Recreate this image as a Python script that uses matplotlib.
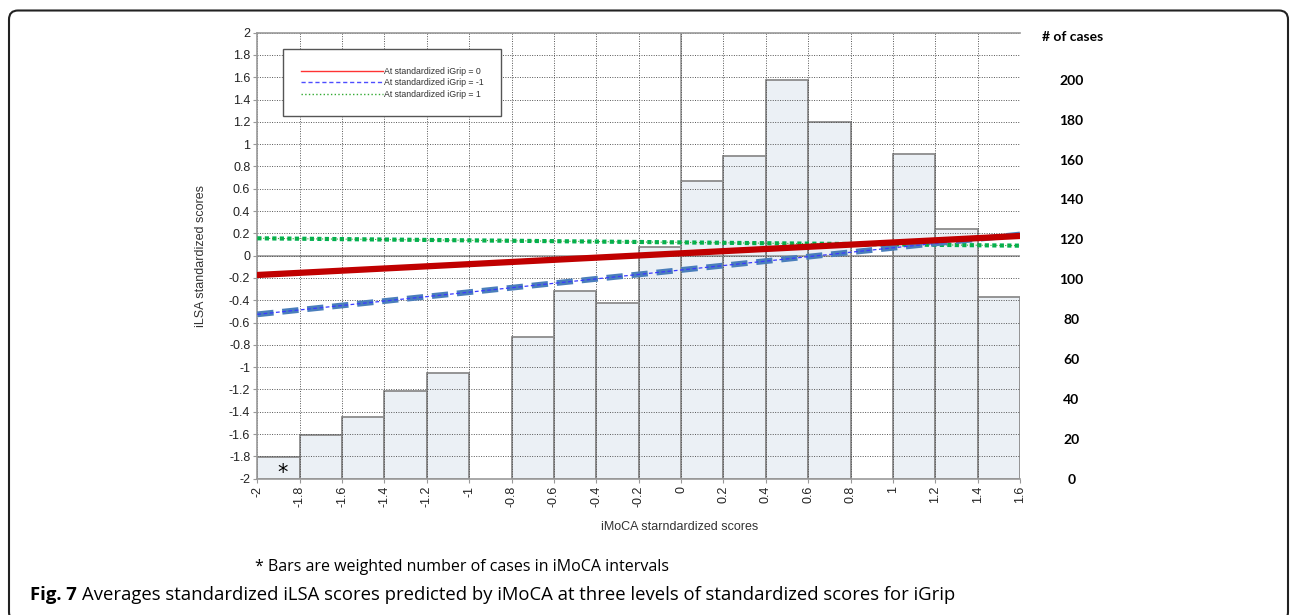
import matplotlib
matplotlib.use("Agg")
import matplotlib.pyplot as plt
import numpy as np
from matplotlib.patches import FancyBboxPatch
from matplotlib.lines import Line2D
from matplotlib.transforms import IdentityTransform

# intervalles iMoCA (bords gauches, largeur 0.2) et nombre pondere de cas
bin_left = [-2.0, -1.8, -1.6, -1.4, -1.2, -0.8, -0.6, -0.4, -0.2, 0.0, 0.2, 0.4, 0.6, 1.0, 1.2, 1.4]
cases = [11, 22, 31, 44, 53, 71, 94, 88, 116, 149, 162, 200, 179, 163, 125, 91]

# droites predites (extremites x = -2 et x = 1.6)
line_x = [-2.0, 1.6]
y_grip0 = [-0.173, 0.177]
y_grip_m1 = [-0.526, 0.19]
y_grip_p1 = [0.156, 0.09]

legend_labels = ['At standardized iGrip = 0', 'At standardized iGrip = -1', 'At standardized iGrip = 1']
case_ticks = [0, 20, 40, 60, 80, 100, 120, 140, 160, 180, 200]

W, H = 1290, 615
fig = plt.figure(figsize=(W / 100, H / 100), dpi=100)
ax = fig.add_axes([257.3 / W, 1 - 478.7 / H, (1020 - 257.3) / W, (478.7 - 32.7) / H])
ax2 = ax.twinx()
ax.set_zorder(ax2.get_zorder() + 1)
ax.patch.set_visible(False)

# barres sur l'axe des cas
ax2.bar(bin_left, cases, width=0.2, align='edge', color='#ebf0f5', edgecolor='#8c8c8c', linewidth=1.3)
ax2.set_ylim(0.65, 223.6)
ax2.set_yticks(case_ticks)
ax2.set_yticklabels([str(c) for c in case_ticks], fontfamily='Lato', fontweight='bold', fontsize=10, ha='center')
ax2.tick_params(axis='y', length=0, pad=37)
for s in ax2.spines.values():
    s.set_visible(False)

# grille et axes
xt = np.round(np.arange(-2, 1.61, 0.2), 1) + 0.0
yt = np.round(np.arange(-2, 2.01, 0.2), 1) + 0.0
ax.set_xlim(-2, 1.6)
ax.set_ylim(-2, 2)
ax.set_xticks(xt)
ax.set_yticks(yt)
ax.set_xticklabels(['%g' % v for v in xt], rotation=90)
ax.set_yticklabels(['%g' % v for v in yt])
ax.tick_params(labelsize=9, colors='#999999', labelcolor='#222222', length=3, width=0.8, pad=2)
for lab in ax.get_xticklabels() + ax.get_yticklabels():
    lab.set_fontfamily('Liberation Sans')
ax.grid(True, color='#555555', linestyle=(0, (1, 1.5)), linewidth=0.7)
ax.axhline(0, color='#999999', lw=1.2, zorder=1.5)
ax.axvline(0, color='#999999', lw=1.2, zorder=1.5)
for k in ['left', 'top', 'bottom']:
    ax.spines[k].set_color('#999999')
    ax.spines[k].set_linewidth(1.2)
ax.spines['right'].set_visible(False)

# droites epaisses + fines
ax.plot(line_x, y_grip_p1, color='#00b050', lw=3, linestyle=(0, (1, 0.8)), zorder=3)
ax.plot(line_x, y_grip_p1, color='#33aa33', lw=0.8, linestyle=':', zorder=3)
ax.plot(line_x, y_grip_m1, color='#4a7ebb', lw=4.2, linestyle=(0, (2.8, 1.5)), zorder=3)
ax.plot(line_x, y_grip_m1, color='#3a3aff', lw=0.9, linestyle=(0, (3, 2)), zorder=3)
ax.plot(line_x, y_grip0, color='#c00000', lw=4.5, zorder=4)

handles = [Line2D([], [], color='#ff3333', lw=1),
           Line2D([], [], color='#4d4dff', lw=1, linestyle=(0, (3, 2))),
           Line2D([], [], color='#33aa33', lw=1, linestyle=':')]
leg = ax.legend(handles, legend_labels, loc='upper left', bbox_to_anchor=(0.034, 0.963),
                prop={'family': 'Liberation Sans', 'size': 6.3}, handlelength=9.4, handletextpad=0.1,
                borderpad=2.0, labelspacing=0.3, fancybox=False, framealpha=1, borderaxespad=0)
leg.get_frame().set_edgecolor('#555555')
leg.get_frame().set_linewidth(1)
for t in leg.get_texts():
    t.set_color('#333333')

ax.text(-1.883, -1.95, '*', fontsize=15, ha='center', va='center', color='black', zorder=5)

ax.set_ylabel('iLSA standardized scores', fontfamily='Liberation Sans', fontsize=9, color='#333333')
ax.yaxis.set_label_coords((207 - 257.3) / 762.7, 0.5)
ax.set_xlabel('iMoCA starndardized scores', fontfamily='Liberation Sans', fontsize=9, color='#333333')
ax.xaxis.label.set_va('center')
ax.xaxis.set_label_coords((679.5 - 257.3) / 762.7, (478.7 - 526.7) / 446)

fig.text(1073 / W, 1 - 36.7 / H, '# of cases', fontfamily='Lato', fontweight='bold', fontsize=10,
         ha='center', va='center')

fig.text(255 / W, 1 - 567 / H, '* Bars are weighted number of cases in iMoCA intervals',
         fontfamily='Open Sans', fontsize=11.5, va='center')

# legende de la figure
r = fig.canvas.get_renderer()
t1 = fig.text(30 / W, 1 - 600 / H, 'Fig. 7', fontfamily='Open Sans', fontweight='bold', fontsize=13.3, va='baseline')
bb = t1.get_window_extent(renderer=r)
fig.text((bb.x1 + 5) / W, 1 - 600 / H,
         'Averages standardized iLSA scores predicted by iMoCA at three levels of standardized scores for iGrip',
         fontfamily='Open Sans', fontsize=13.3, va='baseline')

# cadre arrondi
fig.patches.append(FancyBboxPatch((9, -6), 1279, 610.5, boxstyle='round,pad=0,rounding_size=9',
                                  transform=IdentityTransform(), fill=False, edgecolor='#222222', lw=1.5))

fig.savefig('out.png', dpi=100)
